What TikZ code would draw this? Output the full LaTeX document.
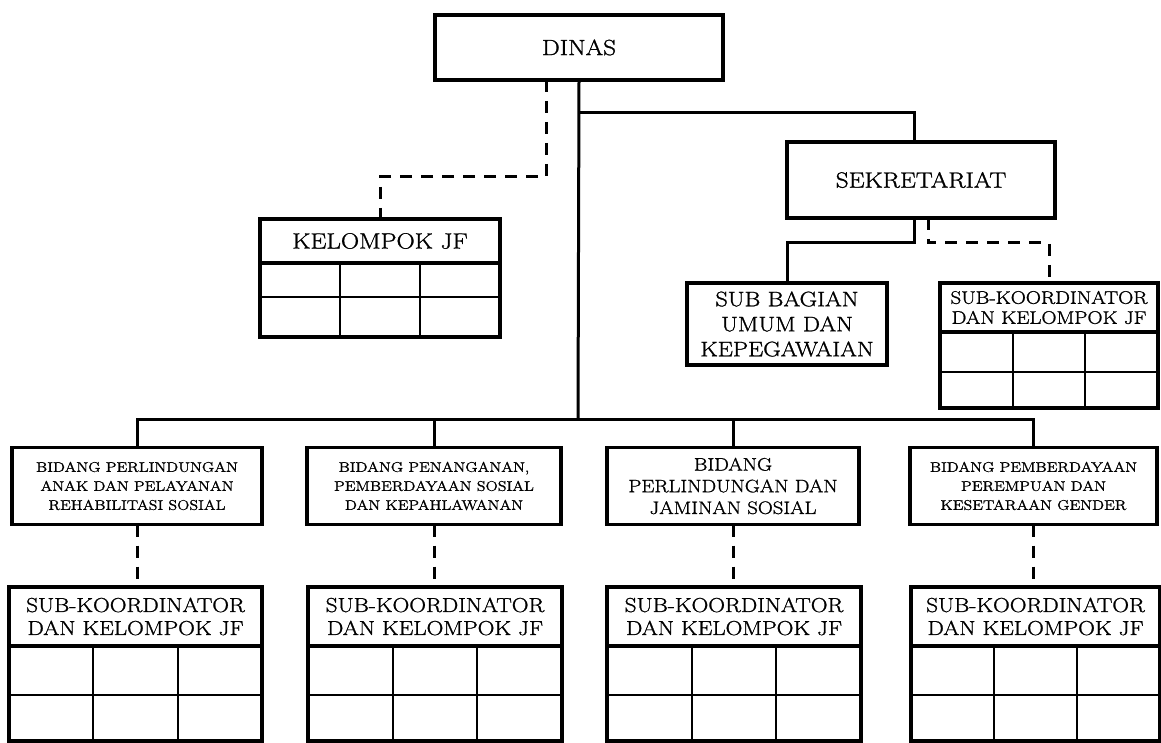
\documentclass[tikz,border=0pt]{standalone}
\usepackage{fontspec}
\setmainfont{Latin Modern Roman}[FakeStretch=1.15, FakeBold=1.2]
\usetikzlibrary{calc}
\tikzset{unit/.style={draw, line width=3.2pt, inner sep=0pt, outer sep=0pt, align=center, fill=white}}
\tikzset{link/.style={line width=3pt}}
\tikzset{dashlink/.style={line width=3pt, dash pattern=on 12pt off 9pt}}
\tikzset{cell/.style={line width=1.8pt}}
\tikzset{bigtext/.style={font=\fontsize{22}{26}\selectfont}}
\tikzset{midtext/.style={font=\fontsize{21}{25}\selectfont}}
\tikzset{kootext/.style={font=\fontsize{20.2}{23}\selectfont}}
\tikzset{bidtext/.style={font=\fontsize{14}{19}\selectfont}}

\begin{document}
\begin{tikzpicture}[x=1pt, y=-1pt]
            \useasboundingbox (0,0) rectangle (1161,743);
            \node[unit, bigtext, minimum width=288, minimum height=65] (dinas) at (579,47.5) {DINAS};
            \node[unit, bigtext, minimum width=240, minimum height=44] (kjf) at (380,241) {KELOMPOK JF};
            \node[unit, bigtext, minimum width=268, minimum height=76] (sek) at (921,180) {SEKRETARIAT};
            \node[unit, midtext, minimum width=200, minimum height=82] (subbag) at (787,324) {SUB BAGIAN\\UMUM DAN\\KEPEGAWAIAN};
            \node[unit, font=\fontsize{18.2}{20}\selectfont, minimum width=218, minimum height=49] (skr) at (1049,307.5) {SUB-KOORDINATOR\\DAN KELOMPOK JF};
            \node[unit, bidtext, minimum width=250, minimum height=77] (b1) at (137,486) {BIDANG PERLINDUNGAN\\ANAK DAN PELAYANAN\\REHABILITASI SOSIAL};
            \node[unit, bidtext, minimum width=254, minimum height=77] (b2) at (434,486) {BIDANG PENANGANAN,\\PEMBERDAYAAN SOSIAL\\DAN KEPAHLAWANAN};
            \node[unit, font=\fontsize{18}{21.7}\selectfont, minimum width=252, minimum height=77] (b3) at (733,486) {BIDANG\\PERLINDUNGAN DAN\\JAMINAN SOSIAL};
            \node[unit, bidtext, minimum width=247, minimum height=77] (b4) at (1033.5,486) {BIDANG PEMBERDAYAAN\\PEREMPUAN DAN\\KESETARAAN GENDER};
            \node[unit, kootext, minimum width=253, minimum height=59] (sk1) at (135.5,616.5) {SUB-KOORDINATOR\\DAN KELOMPOK JF};
            \node[unit, kootext, minimum width=254, minimum height=59] (sk2) at (435,616.5) {SUB-KOORDINATOR\\DAN KELOMPOK JF};
            \node[unit, kootext, minimum width=254, minimum height=59] (sk3) at (734,616.5) {SUB-KOORDINATOR\\DAN KELOMPOK JF};
            \node[unit, kootext, minimum width=249, minimum height=59] (sk4) at (1035.5,616.5) {SUB-KOORDINATOR\\DAN KELOMPOK JF};
            \foreach \n/\h/\r in {kjf/74/34, skr/76/40, sk1/95/49, sk2/95/49, sk3/95/49, sk4/95/49} {
                \draw[cell] ($(\n.south west)+(0,\r)$) -- ($(\n.south east)+(0,\r)$);
                \draw[cell] ($(\n.south west)!1/3!(\n.south east)$) -- ++(0,\h);
                \draw[cell] ($(\n.south west)!2/3!(\n.south east)$) -- ++(0,\h);
                \draw[line width=3.2pt] (\n.south west) rectangle ($(\n.south east)+(0,\h)$);
            }
            \coordinate (fork) at (578,113);
            \coordinate (split) at (578,419);
            \draw[link] (dinas.south) -- (split);
            \draw[link] (fork) -| ([xshift=-7pt]sek.north);
            \draw[dashlink] ([xshift=-33pt]dinas.south) -- ++(0,97) -| (kjf.north);
            \draw[link] ([xshift=-7pt]sek.south) -- ++(0,25) -| (subbag.north);
            \draw[dashlink] ([xshift=7pt]sek.south) -- ++(0,25) -| (skr.north);
            \draw[link] (b1.north) |- (split) -| (b4.north);
            \draw[link] (b2.north) -- (b2.north |- split);
            \draw[link] (b3.north) -- (b3.north |- split);
            \foreach \i in {1,...,4} {
                \draw[dashlink] (b\i.south) -- (b\i.south |- sk\i.north);
            }
        \end{tikzpicture}
\end{document}
